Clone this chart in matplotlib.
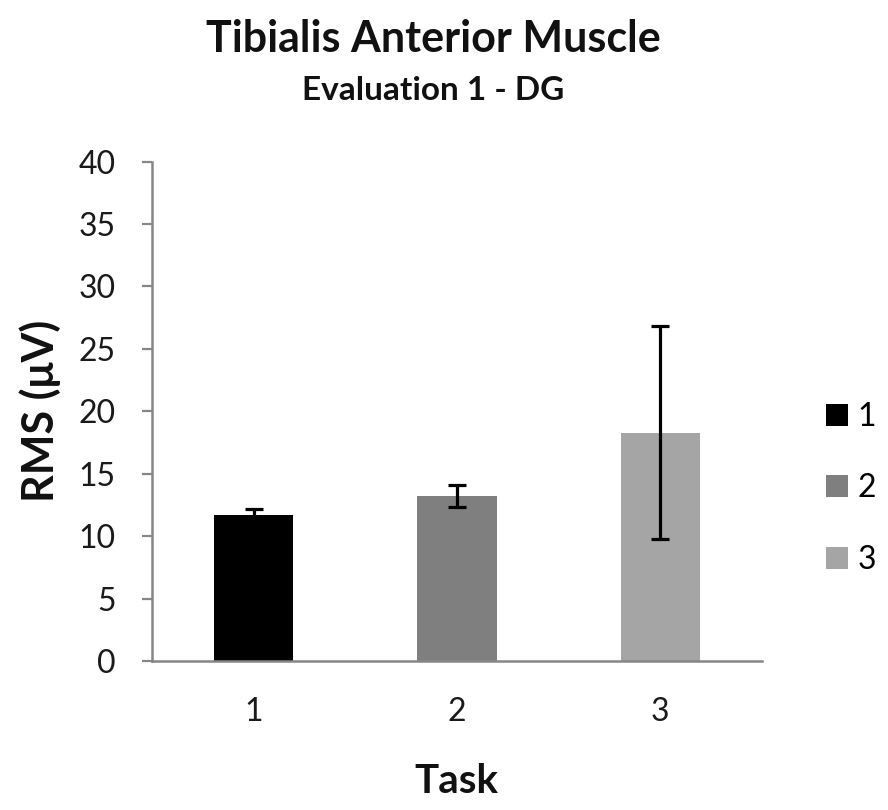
import matplotlib
matplotlib.use("Agg")
import matplotlib.pyplot as plt

# values
tasks = ["1", "2", "3"]
rms_mean = [11.7, 13.2, 18.3]
rms_err = [0.45, 0.9, 8.55]
bar_colors = ["#000000", "#7f7f7f", "#a5a5a5"]
y_ticks = [0, 5, 10, 15, 20, 25, 30, 35, 40]

plt.rcParams["font.family"] = ["Lato", "DejaVu Sans"]

fig = plt.figure(figsize=(8.88, 8.10), dpi=100)
ax = fig.add_axes([0.1712, 0.1840, 0.6869, 0.6164])

x = list(range(1, len(tasks) + 1))
for xi, m, e, c, lab in zip(x, rms_mean, rms_err, bar_colors, tasks):
    ax.bar(xi, m, width=0.39, color=c, label=lab, zorder=2)
    ax.errorbar(xi, m, yerr=e, fmt="none", ecolor="black", elinewidth=2.3,
                capsize=6.4, capthick=2.3, zorder=3)

ax.set_xlim(0.5, 3.5)
ax.set_ylim(0, 40)
ax.set_yticks(y_ticks)
ax.set_xticks(x)
ax.set_xticklabels(tasks)

for s in ["top", "right"]:
    ax.spines[s].set_visible(False)
for s in ["left", "bottom"]:
    ax.spines[s].set_color("#868686")
    ax.spines[s].set_linewidth(1.8)

ax.tick_params(axis="y", direction="out", length=7, width=1.6, color="#868686",
               labelsize=23, labelcolor="#1a1a1a", pad=19)
ax.tick_params(axis="x", length=0, labelsize=23, labelcolor="#1a1a1a", pad=26)

fig.text(0.488, 0.936, "Tibialis Anterior Muscle", ha="center", va="baseline",
         fontsize=31, fontweight="bold", color="#111111")
fig.text(0.488, 0.877, "Evaluation 1 - DG", ha="center", va="baseline",
         fontsize=24, fontweight="bold", color="#111111")
fig.text(0.045, 0.493, "RMS (\u03bcV)", rotation=90, ha="center", va="center",
         fontsize=31, fontweight="bold", color="#111111")
fig.text(0.514, 0.021, "Task", ha="center", va="baseline",
         fontsize=29, fontweight="bold", color="#111111")

ax.legend(loc="center left", bbox_to_anchor=(0.930, 0.397),
          bbox_transform=fig.transFigure, frameon=False, fontsize=23,
          handlelength=0.7, handleheight=0.7, handletextpad=0.3,
          labelspacing=1.3, borderaxespad=0, borderpad=0)

fig.savefig("out.png", dpi=100)
